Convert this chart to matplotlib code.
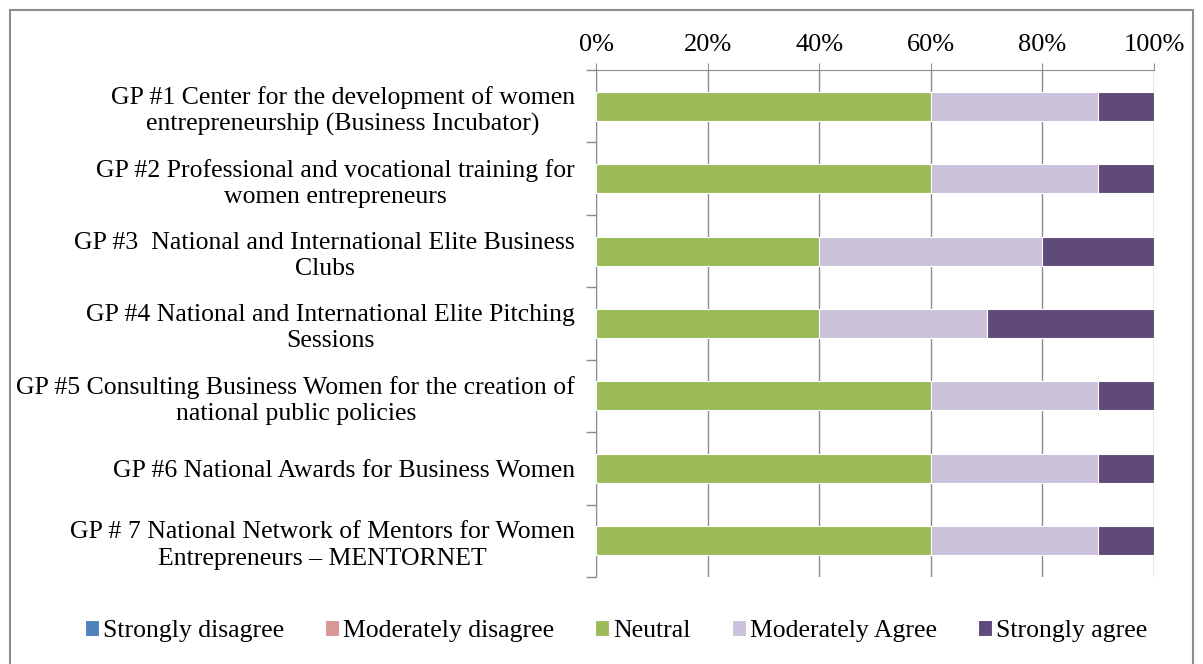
import matplotlib
matplotlib.use("Agg")
import matplotlib.pyplot as plt
from matplotlib.patches import Rectangle
from matplotlib.ticker import FixedLocator, PercentFormatter

categories = [
    "GP #1 Center for the development of women\nentrepreneurship (Business Incubator)",
    "GP #2 Professional and vocational training for\nwomen entrepreneurs",
    "GP #3  National and International Elite Business\nClubs",
    "GP #4 National and International Elite Pitching\nSessions",
    "GP #5 Consulting Business Women for the creation of\nnational public policies",
    "GP #6 National Awards for Business Women",
    "GP # 7 National Network of Mentors for Women\nEntrepreneurs \u2013 MENTORNET",
]
series_names = ["Strongly disagree", "Moderately disagree", "Neutral",
                "Moderately Agree", "Strongly agree"]
strongly_disagree = [0, 0, 0, 0, 0, 0, 0]
moderately_disagree = [0, 0, 0, 0, 0, 0, 0]
neutral = [60, 60, 40, 40, 60, 60, 60]
moderately_agree = [30, 30, 40, 30, 30, 30, 30]
strongly_agree = [10, 10, 20, 30, 10, 10, 10]
colors = ["#4F81BD", "#D99694", "#9BBB59", "#CCC1DA", "#604A7B"]
xticks = [0, 20, 40, 60, 80, 100]

plt.rcParams['font.family'] = ['Liberation Serif', 'DejaVu Serif']

fig = plt.figure(figsize=(12.03, 6.64), dpi=100)
fig.patches.append(Rectangle((10/1203, -0.01), 1183/1203, 1 - 10/664 + 0.01,
                             transform=fig.transFigure, fill=False,
                             edgecolor="#8C8C8C", linewidth=1.5))
ax = fig.add_axes([596/1203, 1 - 577/664, 558/1203, 507/664])

n = len(categories)
ypos = list(range(n))
left = [0] * n
all_series = [strongly_disagree, moderately_disagree, neutral, moderately_agree, strongly_agree]
for name, vals, c in zip(series_names, all_series, colors):
    ax.barh(ypos, vals, left=left, height=0.4, color=c, edgecolor="white",
            linewidth=0.8, label=name, zorder=3)
    left = [l + v for l, v in zip(left, vals)]

ax.set_xlim(0, 100)
ax.set_ylim(n - 0.5, -0.5)
ax.xaxis.tick_top()
ax.xaxis.set_major_locator(FixedLocator(xticks))
ax.xaxis.set_major_formatter(PercentFormatter(decimals=0))
ax.grid(axis="x", color="#8C8C8C", linewidth=1, zorder=0)
ax.tick_params(axis="x", which="major", length=5, color="#8C8C8C",
               labelsize=19, pad=5)

ax.set_yticks(ypos)
ax.set_yticklabels(categories, multialignment="center", fontsize=18.5,
                   linespacing=1.25)
ax.tick_params(axis="y", which="major", length=0, pad=15)
ax.yaxis.set_minor_locator(FixedLocator([i - 0.5 for i in range(n + 1)]))
ax.tick_params(axis="y", which="minor", length=7, color="#8C8C8C", width=1)

for s in ["right", "bottom"]:
    ax.spines[s].set_visible(False)
ax.spines["top"].set_color("#8C8C8C")
ax.spines["left"].set_color("#8C8C8C")

handles, labels = ax.get_legend_handles_labels()
fig.legend(handles, labels, loc="center", bbox_to_anchor=(616/1203, 1 - 631/664),
           ncol=5, frameon=False, fontsize=18.5, handlelength=0.55,
           handleheight=0.55, handletextpad=0.15, columnspacing=1.6)

fig.savefig("out.png", dpi=100)
